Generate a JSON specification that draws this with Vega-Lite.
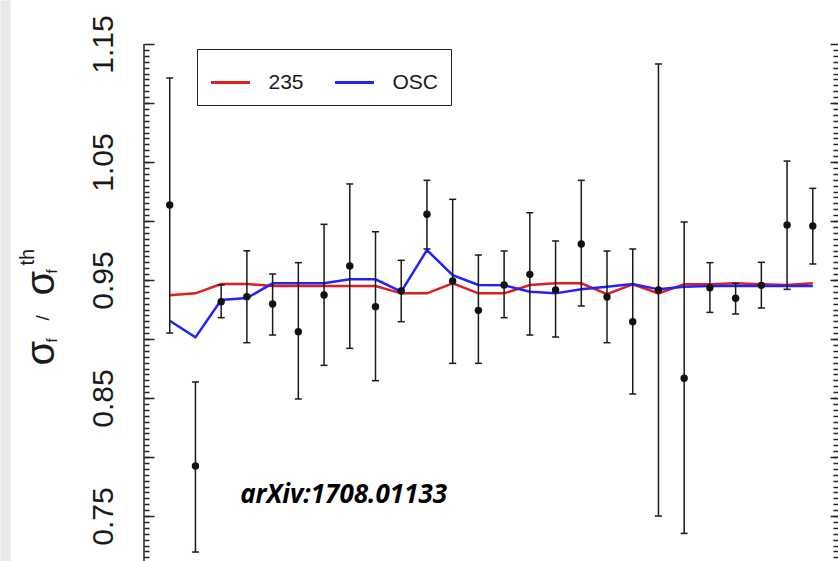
{
  "$schema": "https://vega.github.io/schema/vega-lite/v6.json",
  "width": 694,
  "height": 561,
  "autosize": {"type": "none"},
  "padding": {"left": 144, "top": 0, "right": 0, "bottom": 0},
  "background": "white",
  "datasets": {
    "obs": [
      {"idx": 1, "val": 1.0136, "lo": 0.9051, "hi": 1.1212},
      {"idx": 2, "val": 0.7924, "lo": 0.7195, "hi": 0.8636},
      {"idx": 3, "val": 0.9316, "lo": 0.9181, "hi": 0.9458},
      {"idx": 4, "val": 0.9358, "lo": 0.8969, "hi": 0.9748},
      {"idx": 5, "val": 0.9297, "lo": 0.9034, "hi": 0.9551},
      {"idx": 6, "val": 0.9062, "lo": 0.8492, "hi": 0.9647},
      {"idx": 7, "val": 0.9373, "lo": 0.8777, "hi": 0.9972},
      {"idx": 8, "val": 0.9619, "lo": 0.8921, "hi": 1.0314},
      {"idx": 9, "val": 0.9274, "lo": 0.8647, "hi": 0.9909},
      {"idx": 10, "val": 0.9407, "lo": 0.9147, "hi": 0.9667},
      {"idx": 11, "val": 1.0057, "lo": 0.9763, "hi": 1.0345},
      {"idx": 12, "val": 0.9492, "lo": 0.8794, "hi": 1.0184},
      {"idx": 13, "val": 0.9243, "lo": 0.8794, "hi": 0.9712},
      {"idx": 14, "val": 0.9458, "lo": 0.9181, "hi": 0.9746},
      {"idx": 15, "val": 0.9548, "lo": 0.9034, "hi": 1.007},
      {"idx": 16, "val": 0.9415, "lo": 0.9017, "hi": 0.9831},
      {"idx": 17, "val": 0.9805, "lo": 0.928, "hi": 1.0345},
      {"idx": 18, "val": 0.9356, "lo": 0.8969, "hi": 0.9746},
      {"idx": 19, "val": 0.9147, "lo": 0.8534, "hi": 0.9763},
      {"idx": 20, "val": 0.9415, "lo": 0.75, "hi": 1.1331},
      {"idx": 21, "val": 0.8667, "lo": 0.7353, "hi": 0.9992},
      {"idx": 22, "val": 0.9435, "lo": 0.9226, "hi": 0.9647},
      {"idx": 23, "val": 0.9345, "lo": 0.9212, "hi": 0.9472},
      {"idx": 24, "val": 0.9455, "lo": 0.9263, "hi": 0.965},
      {"idx": 25, "val": 0.9966, "lo": 0.9421, "hi": 1.0508},
      {"idx": 26, "val": 0.9958, "lo": 0.9636, "hi": 1.0277}
    ],
    "model": [
      {"idx": 1, "series": "235", "val": 0.937},
      {"idx": 2, "series": "235", "val": 0.9387},
      {"idx": 3, "series": "235", "val": 0.9466},
      {"idx": 4, "series": "235", "val": 0.9466},
      {"idx": 5, "series": "235", "val": 0.9449},
      {"idx": 6, "series": "235", "val": 0.9449},
      {"idx": 7, "series": "235", "val": 0.9449},
      {"idx": 8, "series": "235", "val": 0.9449},
      {"idx": 9, "series": "235", "val": 0.9449},
      {"idx": 10, "series": "235", "val": 0.9387},
      {"idx": 11, "series": "235", "val": 0.9387},
      {"idx": 12, "series": "235", "val": 0.9472},
      {"idx": 13, "series": "235", "val": 0.9387},
      {"idx": 14, "series": "235", "val": 0.9387},
      {"idx": 15, "series": "235", "val": 0.9458},
      {"idx": 16, "series": "235", "val": 0.9472},
      {"idx": 17, "series": "235", "val": 0.9472},
      {"idx": 18, "series": "235", "val": 0.9381},
      {"idx": 19, "series": "235", "val": 0.9464},
      {"idx": 20, "series": "235", "val": 0.9387},
      {"idx": 21, "series": "235", "val": 0.9464},
      {"idx": 22, "series": "235", "val": 0.9464},
      {"idx": 23, "series": "235", "val": 0.9472},
      {"idx": 24, "series": "235", "val": 0.9464},
      {"idx": 25, "series": "235", "val": 0.9458},
      {"idx": 26, "series": "235", "val": 0.9472},
      {"idx": 1, "series": "OSC", "val": 0.9155},
      {"idx": 2, "series": "OSC", "val": 0.9014},
      {"idx": 3, "series": "OSC", "val": 0.9331},
      {"idx": 4, "series": "OSC", "val": 0.9347},
      {"idx": 5, "series": "OSC", "val": 0.9472},
      {"idx": 6, "series": "OSC", "val": 0.9472},
      {"idx": 7, "series": "OSC", "val": 0.9472},
      {"idx": 8, "series": "OSC", "val": 0.9506},
      {"idx": 9, "series": "OSC", "val": 0.9506},
      {"idx": 10, "series": "OSC", "val": 0.9401},
      {"idx": 11, "series": "OSC", "val": 0.9754},
      {"idx": 12, "series": "OSC", "val": 0.9542},
      {"idx": 13, "series": "OSC", "val": 0.9458},
      {"idx": 14, "series": "OSC", "val": 0.9455},
      {"idx": 15, "series": "OSC", "val": 0.9401},
      {"idx": 16, "series": "OSC", "val": 0.9387},
      {"idx": 17, "series": "OSC", "val": 0.9421},
      {"idx": 18, "series": "OSC", "val": 0.9443},
      {"idx": 19, "series": "OSC", "val": 0.9466},
      {"idx": 20, "series": "OSC", "val": 0.9421},
      {"idx": 21, "series": "OSC", "val": 0.9443},
      {"idx": 22, "series": "OSC", "val": 0.9449},
      {"idx": 23, "series": "OSC", "val": 0.9449},
      {"idx": 24, "series": "OSC", "val": 0.9449},
      {"idx": 25, "series": "OSC", "val": 0.9449},
      {"idx": 26, "series": "OSC", "val": 0.9449}
    ],
    "note": [
      {"x": 7.76, "y": 0.761, "label": "arXiv:1708.01133"}
    ]
  },
  "resolve": {"axis": {"y": "independent"}},
  "layer": [
    {
      "data": {"name": "note"},
      "mark": {"type": "rule", "color": "#222222", "strokeWidth": 1.5},
      "encoding": {
        "x": {"datum": 0, "type": "quantitative", "scale": {"domain": [0, 26.98]}, "axis": null},
        "y": {"datum": 1.15, "type": "quantitative", "scale": {"domain": [0.7119, 1.1873], "nice": false, "zero": false},
          "axis": {"orient": "left", "offset": 139, "domain": true, "domainColor": "#e8e8e8", "domainWidth": 10, "ticks": false, "labels": false, "grid": false, "title": null}},
        "y2": {"datum": 0.7}
      }
    },
    {
      "data": {"name": "model"},
      "mark": {"type": "line", "strokeWidth": 2.5},
      "encoding": {
        "x": {"field": "idx", "type": "quantitative", "scale": {"domain": [0, 26.98]}, "axis": null},
        "y": {"field": "val", "type": "quantitative", "scale": {"domain": [0.7119, 1.1873], "nice": false, "zero": false},
          "axis": {"orient": "right", "values": [0.715,0.72,0.725,0.73,0.735,0.74,0.745,0.75,0.755,0.76,0.765,0.77,0.775,0.78,0.785,0.79,0.795,0.8,0.805,0.81,0.815,0.82,0.825,0.83,0.835,0.84,0.845,0.85,0.855,0.86,0.865,0.87,0.875,0.88,0.885,0.89,0.895,0.9,0.905,0.91,0.915,0.92,0.925,0.93,0.935,0.94,0.945,0.95,0.955,0.96,0.965,0.97,0.975,0.98,0.985,0.99,0.995,1.0,1.005,1.01,1.015,1.02,1.025,1.03,1.035,1.04,1.045,1.05,1.055,1.06,1.065,1.07,1.075,1.08,1.085,1.09,1.095,1.1,1.105,1.11,1.115,1.12,1.125,1.13,1.135,1.14,1.145],
            "ticks": true, "tickSize": -5, "tickWidth": 1.5, "tickColor": "#222222", "labels": false, "domain": false, "grid": false,
            "title": "σ", "titleX": -785, "titleY": 295, "titleAngle": 270, "titleAlign": "left", "titleBaseline": "alphabetic", "titleFontSize": 40, "titleFont": "Liberation Sans", "titleFontWeight": "normal", "titleColor": "#1a1a1a"}},
        "color": {"field": "series", "type": "nominal",
          "scale": {"domain": ["235", "OSC"], "range": ["#e31c1c", "#2222ff"]},
          "legend": {"orient": "none", "legendX": 53, "legendY": 49, "direction": "horizontal", "title": null,
            "symbolType": "stroke", "symbolSize": 1521, "symbolStrokeWidth": 3,
            "labelFontSize": 21, "labelFont": "Liberation Sans", "labelColor": "#1a1a1a", "labelOffset": 17,
            "columnPadding": 24, "padding": 12.5, "strokeColor": "#222222", "fillColor": "white"}}
      }
    },
    {
      "data": {"name": "obs"},
      "mark": {"type": "rule", "color": "#1a1a1a", "strokeWidth": 1.5},
      "encoding": {
        "x": {"field": "idx", "type": "quantitative", "scale": {"domain": [0, 26.98]},
          "axis": {"orient": "top", "offset": -44, "domain": true, "domainColor": "#222222", "domainWidth": 1.5, "ticks": false, "labels": false, "grid": false, "title": null}},
        "y": {"field": "lo", "type": "quantitative", "scale": {"domain": [0.7119, 1.1873], "nice": false, "zero": false},
          "axis": {"orient": "left", "values": [0.75, 0.85, 0.95, 1.05, 1.15], "format": ".2f",
            "labelAngle": 270, "labelAlign": "center", "labelBaseline": "alphabetic", "labelPadding": 32,
            "labelFontSize": 30, "labelFont": "Liberation Sans", "labelColor": "#1a1a1a",
            "labelOverlap": false, "labelFlush": false, "labelBound": false,
            "ticks": false, "tickSize": 0, "domain": false, "grid": false,
            "title": "σ", "titleX": -91, "titleY": 365, "titleAngle": 270, "titleAlign": "left", "titleBaseline": "alphabetic", "titleFontSize": 40, "titleFont": "Liberation Sans", "titleFontWeight": "normal", "titleColor": "#1a1a1a"}},
        "y2": {"field": "hi"}
      }
    },
    {
      "data": {"name": "obs"},
      "mark": {"type": "tick", "orient": "horizontal", "size": 7, "thickness": 1.5, "color": "#1a1a1a", "opacity": 1},
      "encoding": {
        "x": {"field": "idx", "type": "quantitative", "scale": {"domain": [0, 26.98]}, "axis": null},
        "y": {"field": "lo", "type": "quantitative", "scale": {"domain": [0.7119, 1.1873], "nice": false, "zero": false},
          "axis": {"orient": "left", "values": [0.715,0.72,0.725,0.73,0.735,0.74,0.745,0.75,0.755,0.76,0.765,0.77,0.775,0.78,0.785,0.79,0.795,0.8,0.805,0.81,0.815,0.82,0.825,0.83,0.835,0.84,0.845,0.85,0.855,0.86,0.865,0.87,0.875,0.88,0.885,0.89,0.895,0.9,0.905,0.91,0.915,0.92,0.925,0.93,0.935,0.94,0.945,0.95,0.955,0.96,0.965,0.97,0.975,0.98,0.985,0.99,0.995,1.0,1.005,1.01,1.015,1.02,1.025,1.03,1.035,1.04,1.045,1.05,1.055,1.06,1.065,1.07,1.075,1.08,1.085,1.09,1.095,1.1,1.105,1.11,1.115,1.12,1.125,1.13,1.135,1.14,1.145],
            "ticks": true, "tickSize": -5, "tickWidth": 1.5, "tickColor": "#222222", "labels": false, "domain": false, "grid": false,
            "title": "f", "titleX": -88, "titleY": 342, "titleAngle": 270, "titleAlign": "left", "titleBaseline": "alphabetic", "titleFontSize": 15, "titleFont": "Liberation Sans", "titleFontWeight": "normal", "titleColor": "#1a1a1a"}}
      }
    },
    {
      "data": {"name": "obs"},
      "mark": {"type": "tick", "orient": "horizontal", "size": 7, "thickness": 1.5, "color": "#1a1a1a", "opacity": 1},
      "encoding": {
        "x": {"field": "idx", "type": "quantitative", "scale": {"domain": [0, 26.98]}, "axis": null},
        "y": {"field": "hi", "type": "quantitative", "scale": {"domain": [0.7119, 1.1873], "nice": false, "zero": false},
          "axis": {"orient": "left", "values": [0.75, 0.8, 0.85, 0.9, 0.95, 1.0, 1.05, 1.1, 1.15],
            "ticks": true, "tickSize": -10, "tickWidth": 1.5, "tickColor": "#222222", "labels": false, "domain": false, "grid": false,
            "title": "/", "titleX": -96, "titleY": 320, "titleAngle": 270, "titleAlign": "left", "titleBaseline": "alphabetic", "titleFontSize": 19, "titleFont": "Liberation Sans", "titleFontWeight": "normal", "titleColor": "#1a1a1a"}}
      }
    },
    {
      "data": {"name": "obs"},
      "mark": {"type": "point", "filled": true, "size": 55, "color": "#111111", "opacity": 1},
      "encoding": {
        "x": {"field": "idx", "type": "quantitative", "scale": {"domain": [0, 26.98]}, "axis": null},
        "y": {"field": "val", "type": "quantitative", "scale": {"domain": [0.7119, 1.1873], "nice": false, "zero": false},
          "axis": {"orient": "right", "values": [0.75, 0.8, 0.85, 0.9, 0.95, 1.0, 1.05, 1.1, 1.15],
            "ticks": true, "tickSize": -8, "tickWidth": 1.5, "tickColor": "#222222", "labels": false, "domain": false, "grid": false,
            "title": "f", "titleX": -782, "titleY": 273, "titleAngle": 270, "titleAlign": "left", "titleBaseline": "alphabetic", "titleFontSize": 15, "titleFont": "Liberation Sans", "titleFontWeight": "normal", "titleColor": "#1a1a1a"}}
      }
    },
    {
      "data": {"name": "note"},
      "mark": {"type": "text", "font": "Open Sans", "fontStyle": "italic", "fontWeight": "bold", "fontSize": 26, "align": "center", "baseline": "alphabetic", "color": "#000000"},
      "encoding": {
        "x": {"field": "x", "type": "quantitative", "scale": {"domain": [0, 26.98]}, "axis": null},
        "y": {"field": "y", "type": "quantitative", "scale": {"domain": [0.7119, 1.1873], "nice": false, "zero": false},
          "axis": {"orient": "left", "ticks": false, "labels": false, "domain": false, "grid": false,
            "title": "th", "titleX": -110.5, "titleY": 265, "titleAngle": 270, "titleAlign": "left", "titleBaseline": "alphabetic", "titleFontSize": 20, "titleFont": "Liberation Sans", "titleFontWeight": "normal", "titleColor": "#1a1a1a"}},
        "text": {"field": "label", "type": "nominal"}
      }
    }
  ],
  "config": {
    "view": {"stroke": null},
    "axis": {"grid": false}
  }
}
